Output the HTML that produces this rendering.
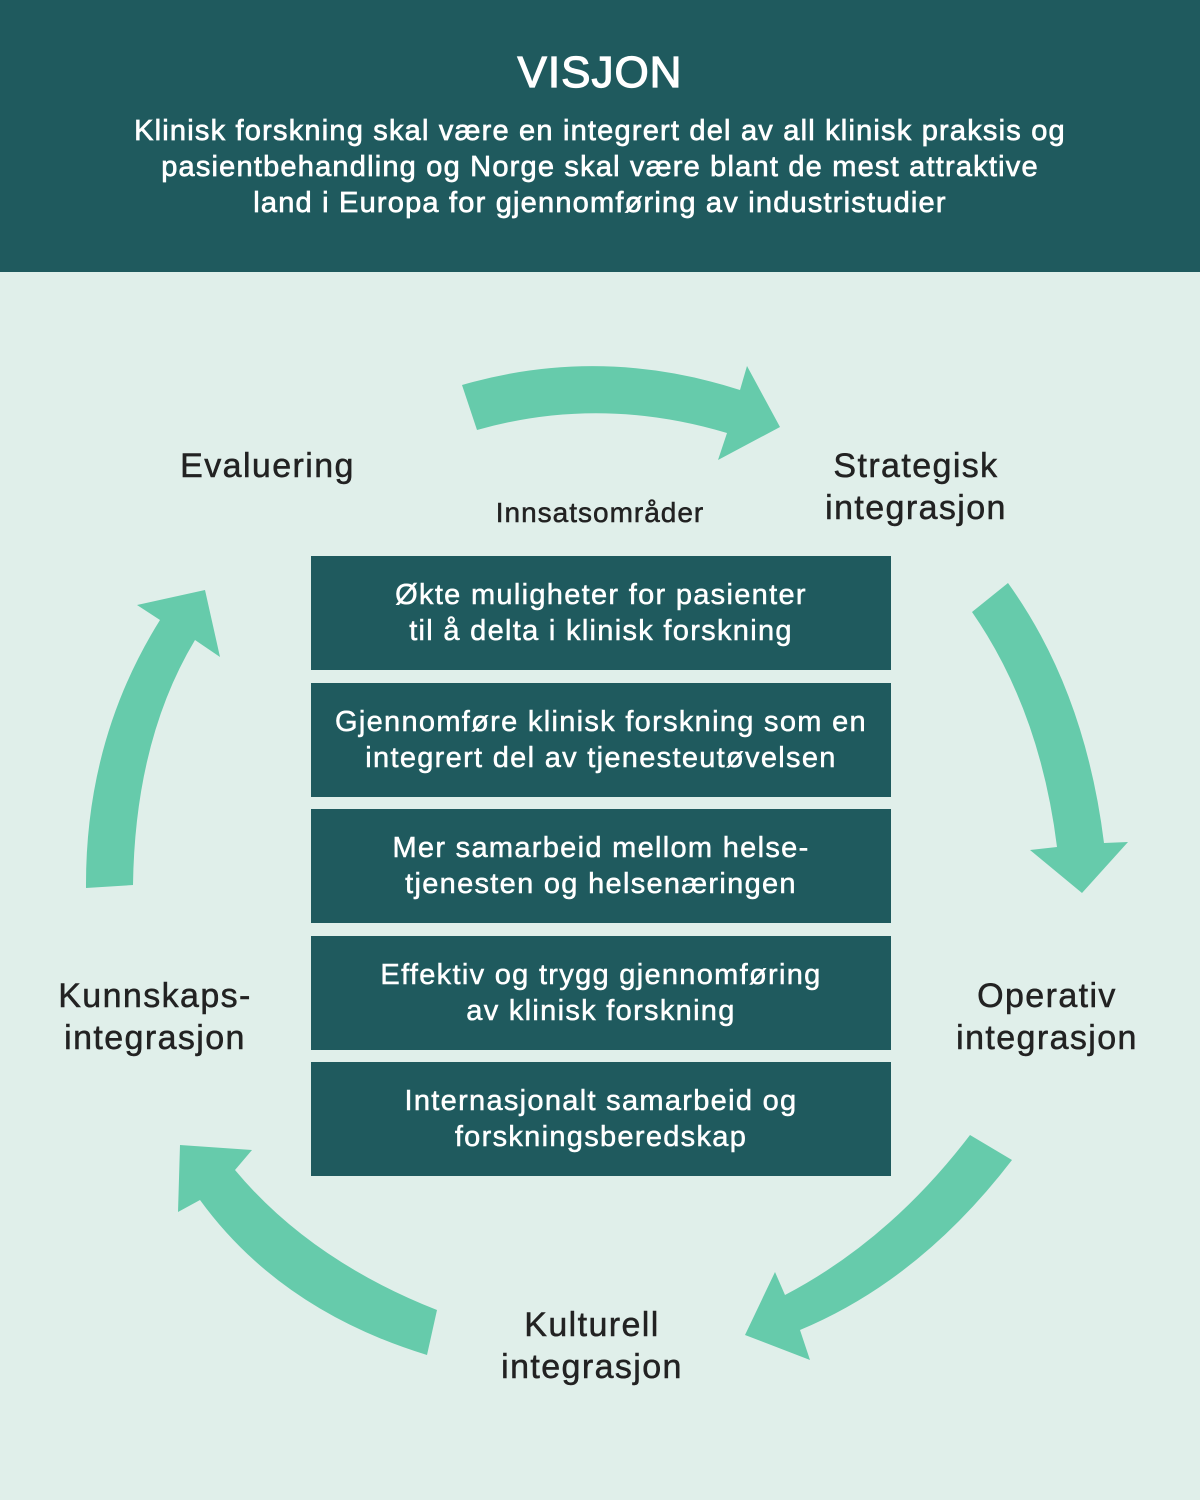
<!DOCTYPE html>
<html><head><meta charset="utf-8"><style>
body{margin:0;width:1200px;height:1500px;background:#e0efea;font-family:"Liberation Sans",sans-serif;position:relative;overflow:hidden}
.hdr{position:absolute;left:0;top:0;width:1200px;height:272px;background:#1f5a5e;color:#fff;text-align:center}
.hdr h1{margin:0;position:absolute;top:48px;width:100%;font-size:44px;font-weight:normal;-webkit-text-stroke:1.2px #fff;letter-spacing:1px}
.hdr p{margin:0;position:absolute;top:113px;width:100%;font-size:29px;line-height:36px;font-weight:normal;-webkit-text-stroke:0.7px #fff;letter-spacing:1.2px}
.box{position:absolute;left:311px;width:580px;height:114px;background:#1f5a5e;color:#fff;font-size:29px;line-height:36px;text-align:center;display:flex;align-items:center;justify-content:center;-webkit-text-stroke:0.5px #fff;letter-spacing:1.3px}
.lbl{position:absolute;color:#222;font-size:34px;line-height:42px;text-align:center;-webkit-text-stroke:0.5px #222;letter-spacing:1.4px}
svg{position:absolute;left:0;top:0}
</style></head><body>
<div class="hdr"><h1>VISJON</h1><p>Klinisk forskning skal være en integrert del av all klinisk praksis og<br>pasientbehandling og Norge skal være blant de mest attraktive<br>land i Europa for gjennomføring av industristudier</p></div>
<svg width="1200" height="1500"><g fill="#66cbab">
<path d="M462,385 Q600,345 740,390 L747,366 L780,427 L718,460 L727,433 Q600,395 477,430 Z"/>
<path d="M1008,583 Q1085,690 1104,843 L1128,842 L1082,893 L1030,850 L1057,847 Q1040,710 972,612 Z"/>
<path d="M1012,1160 Q920,1280 800,1330 L810,1360 L745,1335 L775,1272 L785,1295 Q890,1240 970,1135 Z"/>
<path d="M427,1355 Q280,1310 200,1200 L178,1212 L180,1145 L252,1150 L235,1170 Q310,1260 437,1310 Z"/>
<path d="M86,888 Q85,740 160,620 L137,605 L205,590 L220,657 L195,640 Q135,740 133,885 Z"/>
</g></svg>
<div class="lbl" style="left:130px;top:445px;width:275px">Evaluering</div>
<div class="lbl" style="left:760px;top:445px;width:312px">Strategisk<br>integrasjon</div>
<div class="lbl" style="left:440px;top:492px;width:320px;font-size:28px;letter-spacing:1px">Innsatsområder</div>
<div class="lbl" style="left:0px;top:975px;width:310px">Kunnskaps-<br>integrasjon</div>
<div class="lbl" style="left:900px;top:975px;width:294px">Operativ<br>integrasjon</div>
<div class="lbl" style="left:440px;top:1304px;width:304px">Kulturell<br>integrasjon</div>
<div class="box" style="top:556px">Økte muligheter for pasienter<br>til å delta i klinisk forskning</div>
<div class="box" style="top:683px">Gjennomføre klinisk forskning som en<br>integrert del av tjenesteutøvelsen</div>
<div class="box" style="top:809px">Mer samarbeid mellom helse-<br>tjenesten og helsenæringen</div>
<div class="box" style="top:936px">Effektiv og trygg gjennomføring<br>av klinisk forskning</div>
<div class="box" style="top:1062px">Internasjonalt samarbeid og<br>forskningsberedskap</div>
</body></html>
